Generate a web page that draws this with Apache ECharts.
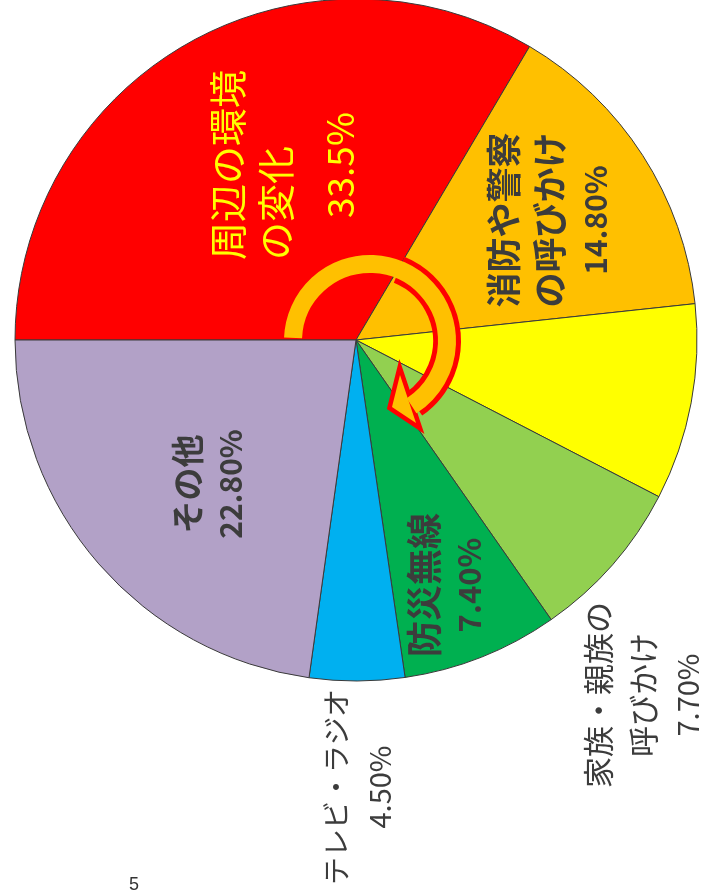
<!DOCTYPE html>
<html>
<head>
<meta charset="utf-8">
<script src="https://cdn.jsdelivr.net/npm/echarts@6/dist/echarts.min.js"></script>
<style>
html, body { margin: 0; padding: 0; background: #fff; }
#main { width: 701px; height: 892px; }
</style>
</head>
<body>
<div id="main"></div>
<script>
// data
var categories = ['周辺の環境\nの変化', '消防や警察\nの呼びかけ', '', '家族・親族の\n呼びかけ', '防災無線', 'テレビ・ラジオ', 'その他'];
var values = [33.5, 14.8, 9.3, 7.7, 7.4, 4.5, 22.8];
var valueLabels = ['33.5%', '14.80%', '', '7.70%', '7.40%', '4.50%', '22.80%'];
var sliceColors = ['#FF0000', '#FFC000', '#FFFF00', '#92D050', '#00B050', '#00B0F0', '#B2A1C7'];

var fontJP = '"Noto Sans CJK JP", "Noto Sans", sans-serif';

// label look for each slice (rotated text, placed by hand)
var labelLook = [
    { x: 292, y: 165, color: '#FFFF00', weight: 'normal', size: 38, pSize: 37, lh: 48, pLh: 80, secondLeft: true },
    { x: 550, y: 220, color: '#3c3c3c', weight: 'bold', size: 35, pSize: 30, lh: 46, pLh: 46 },
    null,
    { x: 643, y: 695, color: '#3c3c3c', weight: 'normal', size: 31, pSize: 29, lh: 45, pLh: 45 },
    { x: 447, y: 585, color: '#3c3c3c', weight: 'bold', size: 36, pSize: 31, lh: 45, pLh: 45 },
    { x: 358, y: 787, color: '#3c3c3c', weight: 'normal', size: 28, pSize: 29, lh: 43, pLh: 43 },
    { x: 209, y: 484, color: '#3c3c3c', weight: 'bold', size: 33, pSize: 30, lh: 43, pLh: 43 }
];

function makeLabel(i) {
    var look = labelLook[i];
    if (!look) {
        return { show: false };
    }
    var lines = categories[i].split('\n');
    var parts = lines.map(function (l, k) {
        var key = (k == 1 && look.secondLeft) ? 'b' : 'a';
        return '{' + key + '|' + l + '}';
    });
    parts.push('{p|' + valueLabels[i] + '}');
    var base = { color: look.color, fontFamily: fontJP, fontWeight: look.weight };
    return {
        show: true,
        position: 'inside',
        rotate: 90,
        align: 'center',
        verticalAlign: 'middle',
        formatter: parts.join('\n'),
        rich: {
            a: Object.assign({ fontSize: look.size, lineHeight: look.lh, align: 'center' }, base),
            b: Object.assign({ fontSize: look.size, lineHeight: look.lh, align: 'left' }, base),
            p: Object.assign({ fontSize: look.pSize, lineHeight: look.pLh, align: 'center' }, base)
        }
    };
}

var pieData = values.map(function (v, i) {
    return {
        value: v,
        name: categories[i],
        itemStyle: { color: sliceColors[i] },
        label: makeLabel(i)
    };
});

var dom = document.getElementById('main');
var myChart = echarts.init(dom);
var option = {
    backgroundColor: '#ffffff',
    animation: false,
    series: [
        {
            type: 'pie',
            center: [356, 340],
            radius: 341,
            startAngle: 180,
            clockwise: true,
            avoidLabelOverlap: false,
            itemStyle: { borderColor: '#3a3a3a', borderWidth: 1 },
            labelLine: { show: false },
            emphasis: { disabled: true },
            labelLayout: function (params) {
                var look = labelLook[params.dataIndex];
                if (!look) return {};
                return { x: look.x, y: look.y, align: 'center', verticalAlign: 'middle', rotate: 90 };
            },
            data: pieData
        }
    ],
    graphic: [
        // curved arrow in the middle
        {
            type: 'polygon', z: 10,
            shape: { points: [[400, 375], [392, 407], [416, 423]] },
            style: { fill: '#FF0000', stroke: '#FF0000', lineWidth: 9, lineJoin: 'miter' }
        },
        {
            type: 'arc', z: 10,
            shape: { cx: 370, cy: 341, r: 77, startAngle: 5.1, endAngle: 2 * Math.PI + 0.96, clockwise: true },
            style: { stroke: '#FF0000', lineWidth: 28, fill: null }
        },
        {
            type: 'arc', z: 11,
            shape: { cx: 370, cy: 341, r: 77, startAngle: Math.PI + 0.04, endAngle: 2 * Math.PI + 1.0, clockwise: true },
            style: { stroke: '#FFC000', lineWidth: 18, fill: null }
        },
        {
            type: 'polygon', z: 12,
            shape: { points: [[400, 375], [392, 407], [416, 423]] },
            style: { fill: '#FFC000' }
        },
        {
            type: 'text', left: 129, top: 876, z: 5,
            style: { text: '5', fontSize: 18, fill: '#333333', fontFamily: 'Liberation Sans' }
        }
    ]
};
if (option && typeof option === 'object') {
    myChart.setOption(option, true);
}
</script>
</body>
</html>
